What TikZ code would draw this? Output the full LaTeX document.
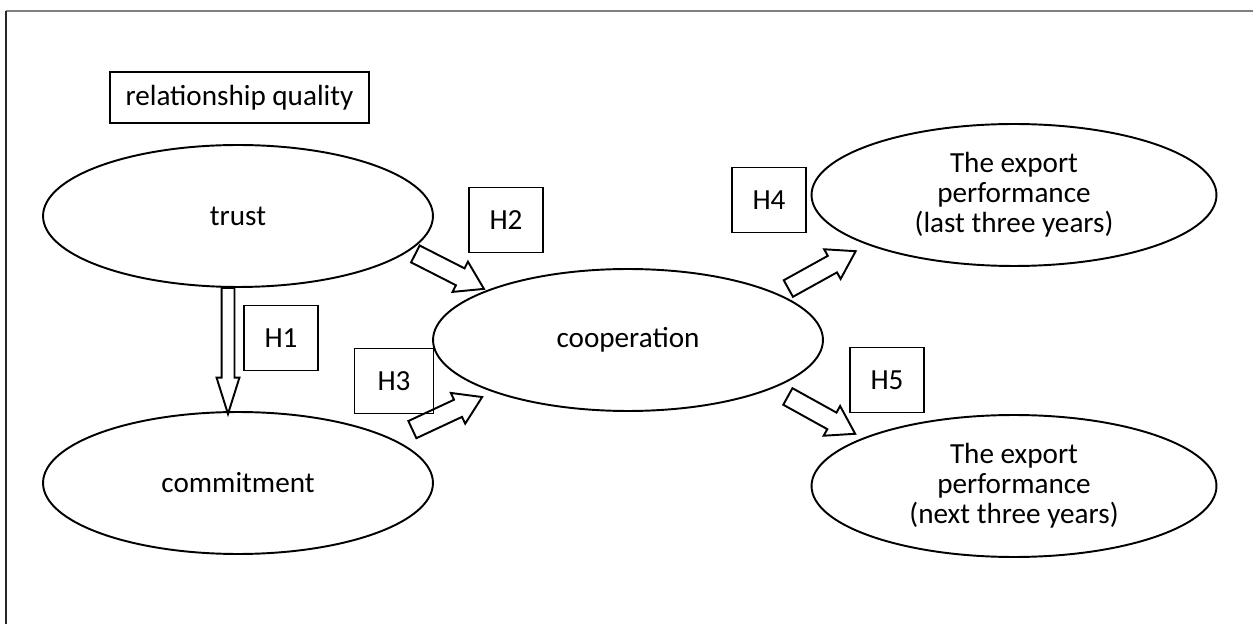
\documentclass[tikz,border=0pt]{standalone}
\usepackage{fontspec}
\setmainfont{Carlito}
\usetikzlibrary{shapes.geometric,shapes.arrows,positioning}

\begin{document}
\begin{tikzpicture}[
        x=0.02cm, y=-0.02cm,
        every node/.style={font=\fontsize{16.6}{17}\selectfont, align=center},
        oval/.style={draw, ellipse, line width=1.1pt, inner sep=0pt, minimum width=7.8cm, minimum height=2.84cm},
        wideoval/.style={oval, minimum width=8.1cm},
        hbox/.style={draw, line width=1.1pt, inner sep=0pt, minimum width=1.48cm, minimum height=1.3cm},
        blockarrow/.style={draw, single arrow, line width=1.1pt, inner xsep=0pt, inner ysep=0.17cm,
            minimum width=0pt, minimum height=1.54cm, single arrow head extend=0.15cm,
            single arrow tip angle=65, anchor=tail},
        thinarrow/.style={blockarrow, inner ysep=0.11cm, minimum height=2.52cm,
            single arrow head extend=0.1cm, single arrow tip angle=35},
    ]
        \useasboundingbox (0,0) rectangle (1253,624);
        % --- frame ---
        \draw[gray, line width=1.1pt] (6,11) -- (1253,11);
        \draw[black!85, line width=1.1pt] (6,11) -- (6,624);

        % --- constructs ---
        \node[draw, line width=1.1pt, minimum width=5.18cm, minimum height=1.02cm] (quality) at (239.5,97.5) {relationship quality};
        \node[oval] (trust)  at (238,216) {trust};
        \node[oval] (commit) at (238,483) {commitment};
        \node[oval] (coop)   at (628,340) {cooperation};
        \node[wideoval] (exlast) at (1014,195) {The export\\performance\\(last three years)};
        \node[wideoval] (exnext) at (1014,486) {The export\\performance\\(next three years)};

        % --- hypotheses ---
        \node[hbox] (h1) at (281,338) {H1};
        \node[hbox] (h2) at (506,220) {H2};
        \node[hbox, minimum width=1.58cm] (h3) at (394,381) {H3};
        \node[hbox] (h4) at (769,200) {H4};
        \node[hbox] (h5) at (887,380) {H5};

        % --- block arrows ---
        \node[thinarrow, rotate=-90] (a1) at (228,287) {};
        \node[blockarrow, rotate=-27] (a2) at (414.5,253.5) {};
        \node[blockarrow, rotate=25] (a3) at (411.5,430) {};
        \node[blockarrow, rotate=29] (a4) at (787.5,289) {};
        \node[blockarrow, rotate=-29] (a5) at (787,396) {};
    \end{tikzpicture}
\end{document}
